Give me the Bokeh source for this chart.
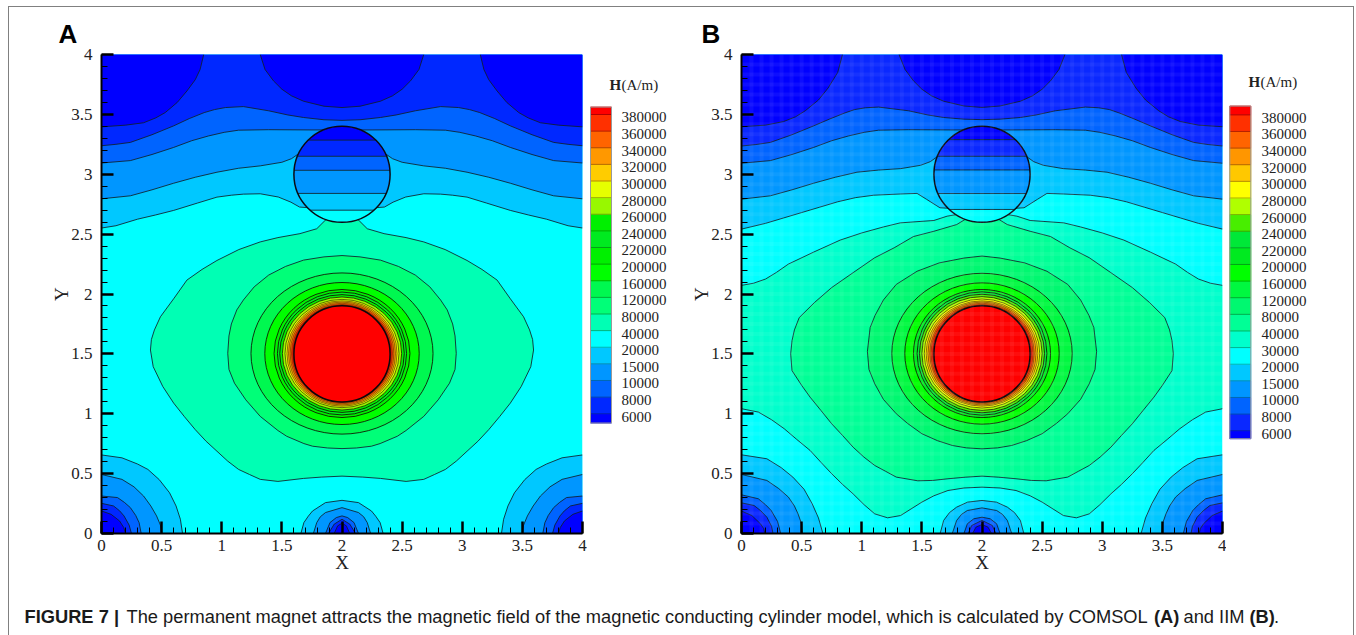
import numpy as np
from bokeh.plotting import figure
from bokeh.layouts import column, row
from bokeh.models import Range1d, SingleIntervalTicker, Title
from bokeh.core.properties import value
from bokeh.embed import file_html
from bokeh.resources import INLINE

SERIF = "Liberation Serif"
SANS = "Liberation Sans"

# ---- legend levels and band colours (first colour is the band below the first level)
LEVELS_A = [6000, 8000, 10000, 15000, 20000, 40000, 80000, 120000, 160000, 200000,
            220000, 240000, 260000, 280000, 300000, 320000, 340000, 360000, 380000]
COLORS_A = ["#0000ff", "#0028ff", "#0064ff", "#0096ff", "#00c8ff", "#00ffff", "#00ffb4", "#00ff78",
            "#00f850", "#00ff00", "#00f000", "#00ea20", "#00f000", "#98f800", "#e6ff00",
            "#ffcc00", "#ff9800", "#ff6400", "#ff3000", "#ff0000"]
LEVELS_B = [6000, 8000, 10000, 15000, 20000, 30000, 40000, 80000, 120000, 160000, 200000,
            220000, 240000, 260000, 280000, 300000, 320000, 340000, 360000, 380000]
COLORS_B = ["#0000ff", "#0a28ff", "#0064ff", "#0096ff", "#00c8ff", "#00ffff", "#00ffcc", "#00ff96",
            "#00f870", "#00f840", "#00ff00", "#00ea20", "#00e838", "#48ee00", "#b0ff00", "#ffff00",
            "#ffc800", "#ff9600", "#ff6400", "#ff3000", "#ff0000"]

# ---- panel A contour lines, left half
A_TOP_20000 = [(0, 2.551), (.12, 2.57), (.3, 2.625), (.45, 2.66), (.6, 2.698), (.8, 2.76), (.96, 2.809), (1.08, 2.825), (1.18, 2.834),
               (1.32, 2.837), (1.47, 2.81), (1.575, 2.767), (1.647, 2.726), (2, 2.7)]
A_TOP_15000 = [(0, 2.795), (.24, 2.82), (.42, 2.87), (.6, 2.925), (.78, 2.975), (.96, 3.017), (1.14, 3.05), (1.32, 3.07), (1.5, 3.1), (1.58, 3.13),
               (1.63, 3.165), (2, 3.17)]
A_TOP_10000 = [(0, 3.094), (.24, 3.114), (.42, 3.165), (.6, 3.224), (.75, 3.28), (.89, 3.32), (1.02, 3.35), (1.14, 3.368), (1.39, 3.372), (1.75, 3.37), (2, 3.37)]
A_TOP_8000 = [(0, 3.238), (.12, 3.25), (.24, 3.266), (.42, 3.33), (.6, 3.404), (.73, 3.465), (.854, 3.515), (.94, 3.54), (1.03, 3.557), (1.18, 3.565), (1.39, 3.53),
              (1.55, 3.495), (1.68, 3.474), (1.85, 3.455), (2, 3.45)]
A_CORNER_6000 = [(0, 3.396), (.2, 3.41), (.35, 3.43), (.45, 3.47), (.53, 3.515), (.63, 3.6), (.71, 3.695), (.78, 3.79), (.82, 3.875), (.85, 4)]
A_MID_6000 = [(1.32, 4), (1.36, 3.875), (1.43, 3.78), (1.5, 3.71), (1.58, 3.655), (1.68, 3.61), (1.85, 3.568), (2, 3.557)]
A_CORNERS = {
    20000: [(0, .656), (.17, .632), (.3, .58), (.386, .535), (.48, .45), (.566, .34), (.62, .23), (.656, .119), (.674, 0)],
    15000: [(0, .493), (.17, .452), (.27, .39), (.35, .313), (.41, .23), (.458, .147), (.49, .07), (.5, 0)],
    10000: [(0, .313), (.133, .3), (.19, .26), (.24, .216), (.285, .15), (.313, .09), (.33, 0)],
    8000: [(0, .252), (.1, .23), (.15, .19), (.187, .147), (.23, .07), (.249, 0)],
    6000: [(0, .188), (.08, .16), (.15, .105), (.185, .05), (.2, 0)],
}
A_CENTRES = {
    20000: [(1.658, 0), (1.683, .091), (1.72, .145), (1.755, .188), (1.863, .258), (2, .277)],
    15000: [(1.762, 0), (1.79, .091), (1.82, .14), (1.863, .175), (2, .216)],
    10000: [(1.863, 0), (1.9, .091), (1.953, .133), (2, .147)],
    8000: [(1.888, 0), (1.935, .078), (2, .119)],
    6000: [(1.935, 0), (1.964, .064), (2, .086)],
}
A_40000 = [(2, 2.7), (1.86, 2.615), (1.79, 2.545), (1.65, 2.504), (1.467, 2.471), (1.32, 2.435), (1.142, 2.371), (.96, 2.28), (.836, 2.205),
           (.71, 2.116), (.6, 1.96), (.49, 1.81), (.44, 1.7), (.415, 1.62), (.407, 1.532), (.43, 1.393), (.51, 1.227), (.6, 1.089), (.69, .975), (.78, .867),
           (.87, .77), (.96, .687), (1.05, .604), (1.14, .535), (1.23, .493), (1.32, .452), (1.467, .435), (1.68, .46), (1.827, .471), (2, .479)]
A_80000 = [(2, 2.321), (1.85, 2.31), (1.68, 2.283), (1.53, 2.23), (1.39, 2.158), (1.27, 2.06), (1.18, 1.95), (1.125, 1.867), (1.08, 1.75), (1.06, 1.65), (1.05, 1.504),
           (1.06, 1.37), (1.106, 1.255), (1.2, 1.116), (1.32, .978), (1.467, .86), (1.54, .812), (1.683, .751), (1.755, .729), (1.88, .714), (2, .709)]
A_RING_LEVELS = [120000, 160000, 200000, 220000, 240000, 260000, 280000, 300000, 320000, 340000, 360000, 380000]
A_RING_RX = [.757, .642, .565, .537, .518, .496, .474, .458, .445, .432, .42, .41]
A_RING_RY = [.673, .593, .535, .513, .492, .472, .452, .44, .43, .42, .41, .405]
A_CHORD_LEVELS = [20000, 15000, 10000, 8000, 6000]
A_CHORD_Y = [2.70, 2.84, 3.033, 3.15, 3.285]

# ---- panel B contour lines, left half
B_TOP_20000 = [(0, 2.542), (.2, 2.59), (.35, 2.635), (.5, 2.68), (.65, 2.725), (.8, 2.77), (.95, 2.805), (1.1, 2.825), (1.32, 2.835), (1.46, 2.84), (1.54, 2.79), (1.65, 2.72), (2, 2.7)]
B_TOP_15000 = [(0, 2.792), (.24, 2.82), (.42, 2.87), (.6, 2.925), (.78, 2.975), (.96, 3.017), (1.14, 3.035), (1.325, 3.047), (1.49, 3.075), (1.57, 3.105), (1.613, 3.136), (2, 3.17)]
B_TOP_10000 = [(0, 3.092), (.24, 3.114), (.42, 3.165), (.6, 3.224), (.75, 3.28), (.89, 3.32), (1.02, 3.35), (1.14, 3.368), (1.39, 3.372), (1.75, 3.37), (2, 3.37)]
B_TOP_8000 = [(0, 3.236), (.12, 3.248), (.24, 3.266), (.42, 3.33), (.6, 3.404), (.73, 3.46), (.854, 3.51), (.94, 3.54), (1.03, 3.555), (1.14, 3.561), (1.39, 3.53), (1.55, 3.495), (1.68, 3.474), (1.85, 3.46), (2, 3.456)]
B_CORNER_6000 = [(0, 3.397), (.2, 3.41), (.35, 3.44), (.45, 3.48), (.53, 3.53), (.64, 3.62), (.72, 3.72), (.8, 3.85), (.84, 4)]
B_MID_6000 = [(1.31, 4), (1.36, 3.875), (1.43, 3.78), (1.5, 3.71), (1.58, 3.655), (1.68, 3.61), (1.85, 3.57), (2, 3.558)]
B_30000_HIGH = [(0, 2.072), (.1, 2.09), (.2, 2.125), (.29, 2.18), (.39, 2.25), (.6, 2.35), (.82, 2.45), (1.0, 2.51), (1.18, 2.56), (1.32, 2.594), (1.6, 2.614), (1.71, 2.65), (2, 2.7)]
B_30000_LOW = [(0, 1.042), (.14, 1.014), (.25, .95), (.355, .875), (.46, .785), (.57, .694), (.66, .595), (.75, .499), (.84, .41), (.928, .331), (1.02, .24),
               (1.108, .164), (1.215, .131), (1.323, .15), (1.41, .205), (1.5, .262), (1.6, .315), (1.717, .359), (1.85, .38), (2, .387)]
B_CORNERS = {
    20000: [(0, .657), (.211, .624), (.33, .55), (.427, .471), (.52, .37), (.588, .248), (.64, .13), (.677, 0)],
    15000: [(0, .493), (.211, .443), (.31, .375), (.39, .304), (.44, .23), (.47, .164), (.5, .08), (.505, 0)],
    10000: [(0, .323), (.14, .29), (.2, .24), (.247, .192), (.3, .1), (.326, 0)],
    8000: [(0, .256), (.104, .234), (.16, .19), (.211, .136), (.25, .06), (.262, 0)],
    6000: [(0, .187), (.086, .15), (.158, .081), (.185, .04), (.194, 0)],
}
B_CENTRES = {
    20000: [(1.652, 0), (1.681, .109), (1.73, .175), (1.789, .22), (1.88, .262), (2, .276)],
    15000: [(1.753, 0), (1.789, .109), (1.83, .16), (1.878, .192), (2, .214)],
    10000: [(1.85, 0), (1.878, .081), (1.932, .123), (2, .136)],
    8000: [(1.885, 0), (1.914, .067), (2, .109)],
    6000: [(1.921, 0), (1.95, .053), (2, .075)],
}
B_40000 = [(2, 2.7), (1.855, 2.62), (1.79, 2.58), (1.6, 2.524), (1.43, 2.48), (1.27, 2.386), (1.108, 2.303), (.928, 2.178), (.749, 2.053), (.606, 1.928),
           (.48, 1.803), (.44, 1.7), (.42, 1.61), (.409, 1.501), (.42, 1.36), (.5, 1.237), (.57, 1.139), (.66, 1.028), (.75, .916), (.84, .819), (.928, .721),
           (1.018, .638), (1.108, .568), (1.197, .52), (1.287, .471), (1.466, .44), (1.59, .443), (1.717, .457), (1.86, .47), (2, .479)]
B_80000 = [(2, 2.317), (1.85, 2.3), (1.645, 2.26), (1.46, 2.19), (1.287, 2.08), (1.18, 1.95), (1.11, 1.82), (1.07, 1.72), (1.047, 1.52), (1.06, 1.37), (1.108, 1.25), (1.18, 1.12),
           (1.287, 1.0), (1.38, .92), (1.5, .833), (1.63, .775), (1.753, .735), (1.87, .715), (2, .707)]
B_RING_LEVELS = [120000, 160000, 200000, 220000, 240000, 260000, 280000, 300000, 320000, 340000, 360000, 380000]
B_RING_RX = [.75, .642, .57, .54, .52, .5, .48, .465, .45, .435, .425, .412]
B_RING_RY = [.67, .59, .535, .515, .495, .475, .455, .44, .43, .42, .41, .405]
B_CHORD_LEVELS = [20000, 15000, 10000, 8000, 6000]
B_CHORD_Y = [2.706, 2.839, 3.036, 3.15, 3.289]

TICK_STEP = 0.5
CAPTION = [("FIGURE 7 |", "bold", 24), ("The permanent magnet attracts the magnetic field of the magnetic conducting cylinder model, which is calculated by COMSOL", "normal", 126),
           ("(A)", "bold", 1153.5), ("and IIM", "normal", 1183), ("(B)", "bold", 1249), (".", "normal", 1273.5)]


def mirrored(half):
    pts = list(half)
    rest = [(4 - x, y) for x, y in reversed(pts)]
    if pts[-1][0] == 2:
        rest = rest[1:]
    return pts + rest


def xy(pts):
    return [p[0] for p in pts], [p[1] for p in pts]


def draw_panel(letter, letter_offset, width, left, right, levels, colors, tops, corner6, mid6, corners, centres,
               c40, c80, ring_levels, ring_rx, ring_ry, chord_levels, chord_y, extra=None):
    col = lambda lv: colors[levels.index(lv) + 1]
    below = lambda lv: colors[levels.index(lv)]
    p = figure(width=width, height=568, x_range=Range1d(0, 4), y_range=Range1d(0, 4), output_backend="svg",
               toolbar_location=None, min_border_left=left, min_border_right=right, min_border_top=47, min_border_bottom=41,
               background_fill_color="white", outline_line_color=None)
    p.title = Title(text=letter, align="left", offset=letter_offset, standoff=11, text_font=SANS, text_font_style="bold",
                    text_font_size="26px", text_color="black")
    p.grid.visible = False
    lines = []
    p.quad(left=[0], right=[4], bottom=[0], top=[4], fill_color=col(20000), line_color=None)

    def fill(pts, c):
        x, y = xy(pts)
        p.patch(x, y, fill_color=c, line_color=None)

    def stroke(pts):
        lines.append(xy(pts))

    if extra is not None:
        high, low = extra
        fill(low[::-1] + high[:-1] + [(4 - x, y) for x, y in reversed(high)] + [(4 - x, y) for x, y in low[:-1]], col(30000))
        stroke(mirrored(high))
        stroke(mirrored(low))
    for lv, half in tops:
        full = mirrored(half)
        fill(full + [(4, 4), (0, 4)], below(lv))
        stroke(full)
    fill(corner6 + [(0, 4)], below(6000))
    stroke(corner6)
    r6 = [(4 - x, y) for x, y in corner6]
    fill(r6 + [(4, 4)], below(6000))
    stroke(r6)
    fill(mirrored(mid6), below(6000))
    stroke(mirrored(mid6))
    for lv, half in corners.items():
        fill(half + [(0, 0)], below(lv))
        stroke(half)
        r = [(4 - x, y) for x, y in half]
        fill(r + [(4, 0)], below(lv))
        stroke(r)
    for lv, half in centres.items():
        fill(mirrored(half), below(lv))
        stroke(mirrored(half))
    fill(mirrored(c40), col(40000))
    stroke(mirrored(c40))
    fill(mirrored(c80), col(80000))
    stroke(mirrored(c80))
    p.multi_line([l[0] for l in lines], [l[1] for l in lines], line_color="#10202a", line_width=1, line_alpha=.85)

    alphas = [.85, .85, .85, .85, .85, .75, .6, .5, .45, .4, .35, .3]
    p.ellipse(x=[2] * len(ring_levels), y=[1.503] * len(ring_levels), width=[2 * r for r in ring_rx],
              height=[2 * r for r in ring_ry], fill_color=[col(l) for l in ring_levels], line_color="#101000",
              line_alpha=alphas, line_width=1)

    # the cylinder and its inner bands
    cy = 3.0
    p.circle(x=[2], y=[cy], radius=.4, fill_color=col(20000), line_color=None)
    edges = list(chord_y) + [cy + .4]
    for i, lv in enumerate(chord_levels):
        y0, y1 = edges[i], edges[i + 1]
        ys = np.linspace(y0, y1, 30)
        w = np.sqrt(np.maximum(.16 - (ys - cy) ** 2, 0))
        p.patch(list(2 - w) + list((2 + w)[::-1]), list(ys) + list(ys[::-1]), fill_color=below(lv), line_color=None)
        half = np.sqrt(.16 - (y0 - cy) ** 2)
        p.line([2 - half, 2 + half], [y0, y0], line_color="#10202a", line_width=1, line_alpha=.85)
    p.circle(x=[2], y=[cy], radius=.4, fill_color=None, line_color="#0a0a14", line_width=1.5)
    p.circle(x=[2], y=[1.5], radius=.4, fill_color=colors[-1], line_color="#0a0a0a", line_width=1.5)

    if extra is not None:
        # faint plaid texture of panel B's regular calculation grid
        grid = [k / 12 for k in range(1, 48)]
        p.multi_line([[g, g] for g in grid], [[0, 4] for g in grid], line_color="white", line_alpha=.05, line_width=4)
        p.multi_line([[0, 4] for g in grid], [[g, g] for g in grid], line_color="white", line_alpha=.05, line_width=4)

    for ax in (p.xaxis[0], p.yaxis[0]):
        ax.ticker = SingleIntervalTicker(interval=TICK_STEP, num_minor_ticks=5)
        ax.major_tick_in, ax.major_tick_out = 12, 0
        ax.minor_tick_in, ax.minor_tick_out = 6, 0
        ax.major_tick_line_width = 2.5
        ax.minor_tick_line_width = 1
        ax.axis_line_width = 2
        ax.major_tick_line_color = ax.minor_tick_line_color = ax.axis_line_color = "black"
        ax.major_label_text_font = SERIF
        ax.major_label_text_font_size = "17px"
        ax.major_label_text_color = "#222222"
        ax.axis_label_text_font = SERIF
        ax.axis_label_text_font_size = "19px"
        ax.axis_label_text_font_style = "normal"
        ax.axis_label_text_color = "#222222"
    p.xaxis.axis_label = "X"
    p.yaxis.axis_label = "Y"
    p.xaxis.major_label_standoff = 6
    p.xaxis.axis_label_standoff = -2
    p.yaxis.major_label_standoff = 9
    p.yaxis.axis_label_standoff = -4
    return p


def draw_legend(x0, width, levels, colors, y_first, y_top, y_bot, bar_x, label_x, title_x, title_y):
    STEP = 16.66
    top_px, bot_px = 54, 534
    p = figure(width=width, height=568, x_range=Range1d(x0, x0 + width),
               y_range=Range1d((y_first - bot_px) / STEP, (y_first - top_px) / STEP), output_backend="svg",
               toolbar_location=None, min_border_left=0, min_border_right=0, min_border_top=47, min_border_bottom=41,
               outline_line_color=None, x_axis_location=None, y_axis_location=None)
    p.grid.visible = False
    idx = list(range(len(levels)))
    bottoms = [(y_first - y_bot) / STEP] + idx
    tops = idx + [(y_first - y_top) / STEP]
    p.quad(left=bar_x, right=bar_x + 21, bottom=bottoms, top=tops, fill_color=colors, line_color=colors, line_width=1)
    p.segment(x0=[bar_x] * len(idx), x1=[bar_x + 21] * len(idx), y0=idx, y1=idx, line_color="#000000", line_alpha=.3, line_width=1)
    p.quad(left=[bar_x], right=[bar_x + 21], bottom=[bottoms[0]], top=[tops[-1]], fill_color=None, line_color="#999999", line_width=1)
    p.text(x=[label_x] * len(idx), y=idx, text=[str(v) for v in levels], y_offset=3, text_font=value(SERIF), text_font_size="15px",
           text_color="#222222", text_baseline="middle", text_align="left")
    ty = (y_first - title_y) / STEP
    p.text(x=[title_x], y=[ty], text=["H"], text_font=value(SERIF), text_font_style="bold", text_font_size="15px",
           text_color="#222222", text_baseline="middle")
    p.text(x=[title_x + 12], y=[ty], text=["(A/m)"], text_font=value(SERIF), text_font_size="15px",
           text_color="#222222", text_baseline="middle")
    return p


pA = draw_panel("A", -43, 578, 92, 5, LEVELS_A, COLORS_A,
                [(20000, A_TOP_20000), (15000, A_TOP_15000), (10000, A_TOP_10000), (8000, A_TOP_8000)],
                A_CORNER_6000, A_MID_6000, A_CORNERS, A_CENTRES, A_40000, A_80000,
                A_RING_LEVELS, A_RING_RX, A_RING_RY, A_CHORD_LEVELS, A_CHORD_Y)
lA = draw_legend(587, 93, LEVELS_A, COLORS_A, 414, 106.7, 423.3, 590, 621, 609, 85)
pB = draw_panel("B", -40, 546, 61, 4, LEVELS_B, COLORS_B,
                [(20000, B_TOP_20000), (15000, B_TOP_15000), (10000, B_TOP_10000), (8000, B_TOP_8000)],
                B_CORNER_6000, B_MID_6000, B_CORNERS, B_CENTRES, B_40000, B_80000,
                B_RING_LEVELS, B_RING_RX, B_RING_RY, B_CHORD_LEVELS, B_CHORD_Y, extra=(B_30000_HIGH, B_30000_LOW))
lB = draw_legend(1226, 127, LEVELS_B, COLORS_B, 431, 105.7, 439, 1229.3, 1261, 1248, 82)

cap = figure(width=1344, height=60, x_range=Range1d(9, 1353), y_range=Range1d(635, 575), output_backend="svg",
             toolbar_location=None, min_border=0, outline_line_color=None, x_axis_location=None, y_axis_location=None)
cap.grid.visible = False
for txt, style, x in CAPTION:
    cap.text(x=[x], y=[616], text=[txt], text_font=value(SANS), text_font_style=style, text_font_size="18.3px",
             text_color="#1a1a1a", text_baseline="middle")

top = row(pA, lA, pB, lB, spacing=0)
root = column(top, cap, spacing=0, margin=(6, 0, 0, 8))
root.styles = {"border-top": "1px solid #808080", "border-left": "1px solid #808080", "border-right": "1px solid #808080"}

open("out.html", "w").write(file_html(root, INLINE))
